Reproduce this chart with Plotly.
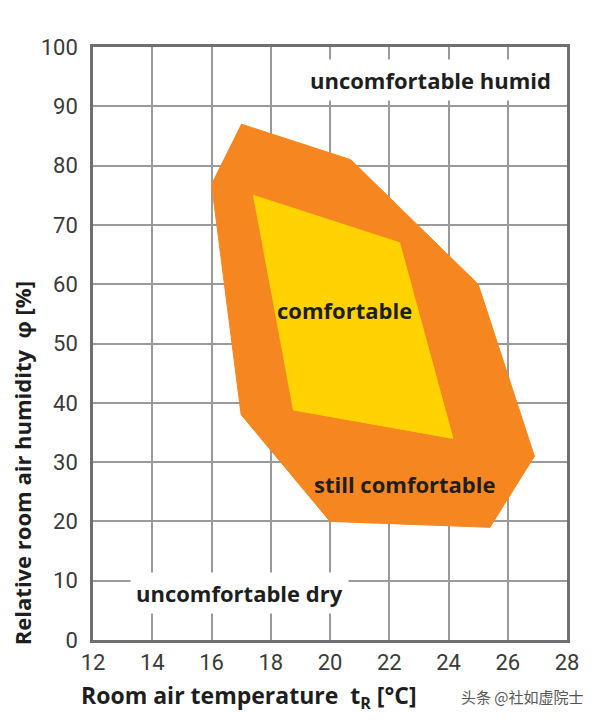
import plotly.graph_objects as go

# Data (temperature °C, relative humidity %)
still_t = [17.0, 20.7, 25.0, 26.9, 25.4, 20.0, 17.0, 16.0]
still_rh = [87, 81, 60, 31, 19, 20, 38, 77]
comf_t = [17.4, 22.35, 24.15, 18.75]
comf_rh = [75, 67, 34, 38.8]

x_ticks = [12, 14, 16, 18, 20, 22, 24, 26, 28]
y_ticks = [0, 10, 20, 30, 40, 50, 60, 70, 80, 90, 100]

labels = ["uncomfortable humid", "comfortable", "still comfortable", "uncomfortable dry"]
label_t = [23.4, 20.5, 22.5, 16.95]
label_rh = [94.4, 55.6, 26.3, 7.9]

ORANGE = "#F6861F"
YELLOW = "#FFD200"
TXT = "#1e1e1e"

fig = go.Figure()
fig.add_trace(go.Scatter(x=still_t, y=still_rh, fill="toself", fillcolor=ORANGE,
                         mode="lines", line=dict(color=ORANGE, width=1),
                         hoverinfo="skip", showlegend=False))
fig.add_trace(go.Scatter(x=comf_t, y=comf_rh, fill="toself", fillcolor=YELLOW,
                         mode="lines", line=dict(color=YELLOW, width=1),
                         hoverinfo="skip", showlegend=False))

font_b = "Open Sans"
for i, (txt, xt, yt) in enumerate(zip(labels, label_t, label_rh)):
    bg = "white" if i in (0, 3) else None
    fig.add_annotation(x=xt, y=yt, text="<b>%s</b>" % txt, showarrow=False,
                       xanchor="center", yanchor="middle",
                       font=dict(family=font_b, size=22, color=TXT),
                       bgcolor=bg, borderpad=5 if bg else 0)

fig.add_annotation(xref="paper", yref="paper", x=0.329, y=-0.096,
                   xanchor="center", yanchor="middle",
                   text="<b>Room air temperature  t<sub>R</sub> [°C]</b>", showarrow=False,
                   font=dict(family=font_b, size=23, color=TXT))
fig.add_annotation(xref="paper", yref="paper", x=-0.15, y=0.298, textangle=-90,
                   xanchor="center", yanchor="middle",
                   text="<b>Relative room air humidity  φ [%]</b>", showarrow=False,
                   font=dict(family=font_b, size=22, color=TXT))
fig.add_annotation(xref="paper", yref="paper", x=0.907, y=-0.096,
                   xanchor="center", yanchor="middle",
                   text="头条 @社如虚院士", showarrow=False,
                   font=dict(family="Noto Sans CJK SC", size=15, color="#555555"))

axis_common = dict(showgrid=True, gridcolor="#9a9a9a", gridwidth=1.5,
                   showline=True, linecolor="#6f6f6f", linewidth=2.5, mirror=True,
                   ticks="", zeroline=False,
                   tickfont=dict(family="Roboto", size=22, color="#3a3a3a"))

fig.update_xaxes(range=[12, 28], tickvals=x_ticks, ticktext=[str(v) for v in x_ticks],
                 ticklabelstandoff=1, **axis_common)
fig.update_yaxes(range=[0, 100], tickvals=y_ticks, ticktext=[str(v) for v in y_ticks],
                 ticklabelstandoff=8, **axis_common)

fig.update_layout(width=591, height=715, margin=dict(l=85, r=32, t=39, b=83),
                  plot_bgcolor="white", paper_bgcolor="white", showlegend=False)

fig.write_html("out.html")
